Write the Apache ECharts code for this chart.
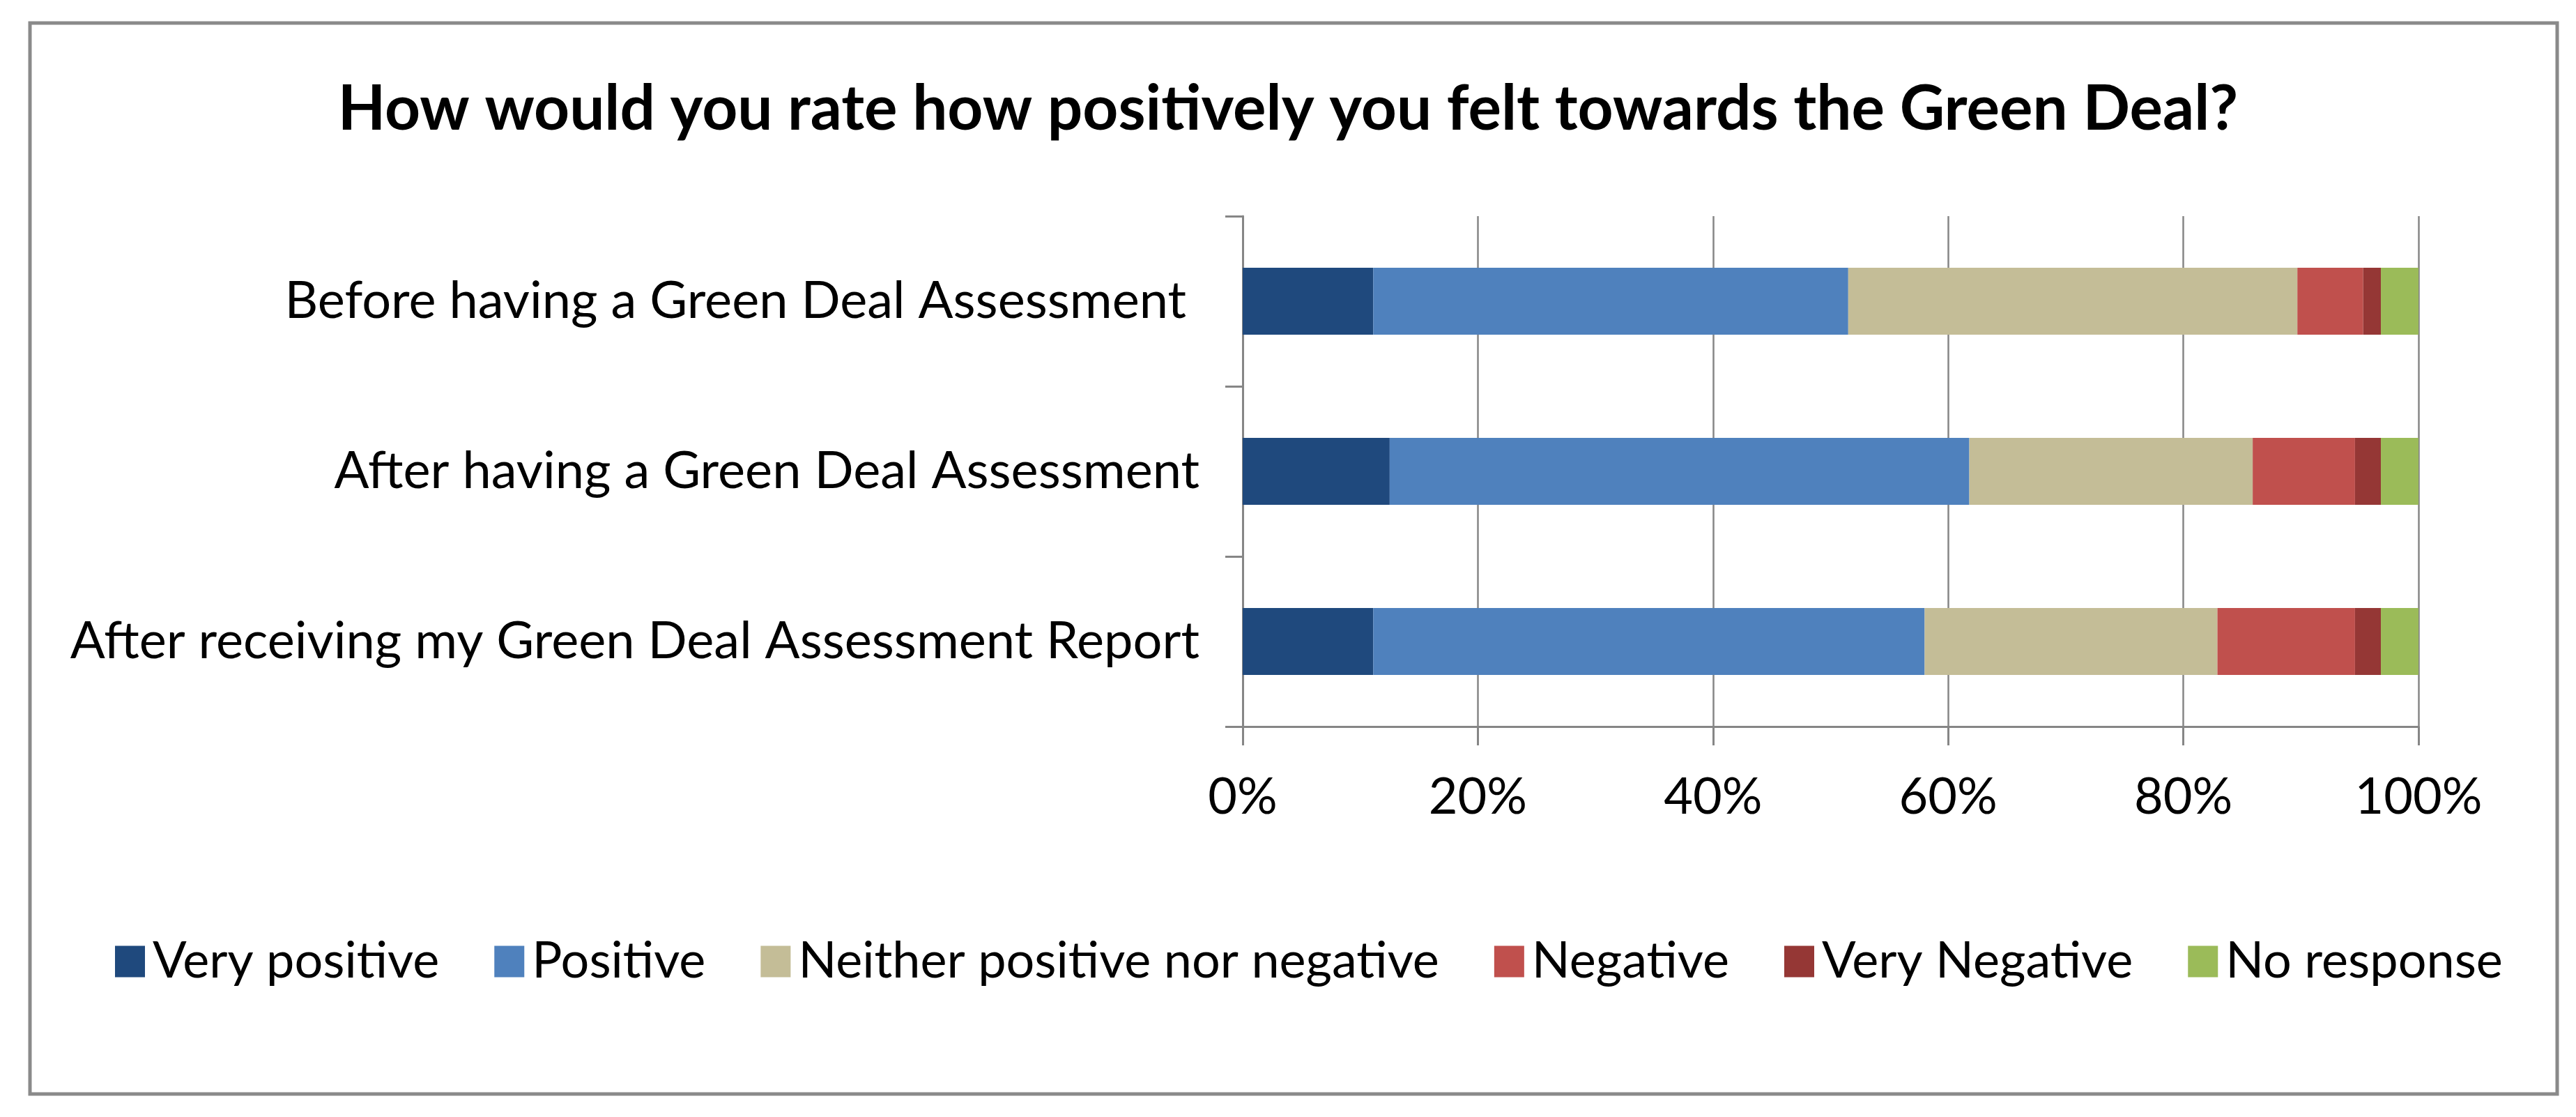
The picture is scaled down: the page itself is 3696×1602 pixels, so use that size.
<!DOCTYPE html>
<html>
<head>
<meta charset="utf-8">
<script src="https://cdn.jsdelivr.net/npm/echarts@6/dist/echarts.min.js"></script>
<style>
html,body{margin:0;padding:0;background:#fff;}
#chart{width:3696px;height:1602px;}
</style>
</head>
<body>
<div id="chart"></div>
<script>
const categories = [
  "Before having a Green Deal Assessment ",
  "After having a Green Deal Assessment",
  "After receiving my Green Deal Assessment Report"
];
const seriesNames = ["Very positive","Positive","Neither positive nor negative","Negative","Very Negative","No response"];
const veryPositive = [11.1, 12.5, 11.1];
const positive     = [40.4, 49.3, 46.9];
const neither      = [38.2, 24.1, 24.9];
const negative     = [5.6, 8.7, 11.7];
const veryNegative = [1.5, 2.2, 2.2];
const noResponse   = [3.2, 3.2, 3.2];
const xTicks = [0, 20, 40, 60, 80, 100];
const colors = ["#1F497D","#4F81BD","#C4BD97","#C0504D","#953735","#9BBB59"];

const seriesData = [veryPositive, positive, neither, negative, veryNegative, noResponse];
const FONT = "Lato";
const chart = echarts.init(document.getElementById('chart'));
chart.setOption({
  backgroundColor: '#fff',
  animation: false,
  color: colors,
  textStyle: {fontFamily: FONT, color: '#000'},
  title: {
    text: "How would you rate how positively you felt towards the Green Deal?",
    left: 'center', top: 108,
    textStyle: {fontFamily: FONT, fontWeight: 'bold', fontSize: 89, color: '#000'}
  },
  graphic: [{
    type: 'rect', shape: {x: 43, y: 33, width: 3626, height: 1536},
    style: {fill: 'none', stroke: '#8a8a8a', lineWidth: 5}, silent: true
  }],
  legend: {
    left: 160, top: 1338,
    itemWidth: 43, itemHeight: 45, itemGap: 79,
    icon: 'rect',
    textStyle: {fontFamily: FONT, fontSize: 72, color: '#000', padding: [0, 0, 0, 6]},
    data: seriesNames
  },
  grid: {left: 1783, right: 226, top: 310, bottom: 560, containLabel: false},
  xAxis: {
    type: 'value', min: 0, max: 100, interval: 20,
    axisLine: {show: true, lineStyle: {color: '#868686', width: 3}},
    axisTick: {show: true, length: 27, lineStyle: {color: '#868686', width: 3}},
    splitLine: {show: true, lineStyle: {color: '#868686', width: 2.5}},
    axisLabel: {formatter: '{value}%', fontFamily: FONT, fontSize: 72, color: '#000', margin: 66}
  },
  yAxis: {
    type: 'category', inverse: true, data: categories,
    axisLine: {show: true, lineStyle: {color: '#868686', width: 3}},
    axisTick: {show: true, length: 25, lineStyle: {color: '#868686', width: 3}},
    axisLabel: {fontFamily: FONT, fontSize: 74, color: '#000', margin: 62}
  },
  series: seriesNames.map((n, i) => ({
    name: n, type: 'bar', stack: 'total', data: seriesData[i],
    barWidth: 96,
    itemStyle: {color: colors[i]}
  }))
});
</script>
</body>
</html>
